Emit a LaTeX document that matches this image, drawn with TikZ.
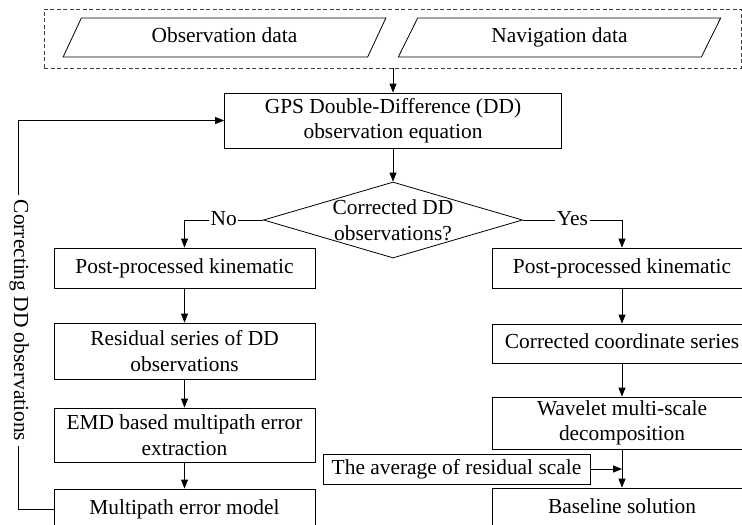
\documentclass[tikz,border=0pt]{standalone}
\usepackage{fontspec}
\setmainfont{Liberation Serif}
\usetikzlibrary{arrows.meta,shapes.geometric}

\begin{document}
\begin{tikzpicture}[x=1pt,y=-1pt,line width=0.8pt,
    font=\fontsize{21.4}{25.5}\selectfont,
    oneline/.style={text height=14.5pt,text depth=4.5pt},
    box/.style={draw,rectangle,align=center,inner sep=0pt},
    datain/.style={draw,trapezium,trapezium left angle=64,trapezium right angle=116,
        trapezium stretches=true,minimum width=323,minimum height=39,inner sep=0pt,oneline},
    arr/.style={-{Triangle[length=9pt,width=7pt]}},
    lab/.style={fill=white,inner sep=1.5pt,oneline}]
\useasboundingbox (0,0) rectangle (742,525);
\clip (0,0) rectangle (742,525);

% input data
\node[draw=black!75,dash pattern=on 4pt off 2.5pt,minimum width=697,minimum height=59] (input) at (392.5,38.5) {};
\node[datain] (obs) at (224.5,37.5) {Observation data};
\node[datain] (nav) at (559.5,37.5) {Navigation data};

\node[box,minimum width=337,minimum height=55] (gps) at (393,120.5) {GPS Double-Difference (DD)\\observation equation};
\node[draw,diamond,inner sep=0pt,minimum width=259,minimum height=76] (dec) at (393,220) {};
\node[align=center,inner sep=0pt] (dectext) at (dec.center) {Corrected DD\\observations?};

% left branch
\node[box,oneline,minimum width=261,minimum height=40] (ppkl) at (184.5,268) {Post-processed kinematic};
\node[box,minimum width=261,minimum height=56] (resid) at (184.5,351) {Residual series of DD\\observations};
\node[box,minimum width=261,minimum height=54] (emd) at (184.5,435) {EMD based multipath error\\extraction};
\node[box,oneline,minimum width=261,minimum height=40] (mpm) at (184.5,509) {Multipath error model};

% right branch
\node[box,oneline,minimum width=260,minimum height=40] (ppkr) at (622,268) {Post-processed kinematic};
\node[box,oneline,minimum width=260,minimum height=39] (coord) at (622,343.5) {Corrected coordinate series};
\node[box,minimum width=260,minimum height=52] (wave) at (622,423) {Wavelet multi-scale\\decomposition};
\node[box,oneline,minimum width=267,minimum height=30] (avg) at (456.5,469) {The average of residual scale};
\node[box,oneline,minimum width=260,minimum height=40] (base) at (622,508) {Baseline solution};

\draw[arr] (input.south -| gps.north) -- (gps.north);
\draw[arr] (gps.south) -- (dec.north);
\draw[arr] (dec.west) -| node[lab,pos=0.25] (no) {No} (ppkl.north);
\draw[arr] (dec.east) -| node[lab,pos=0.25] (yes) {Yes} (ppkr.north);

\draw[arr] (ppkl) -- (resid);
\draw[arr] (resid) -- (emd);
\draw[arr] (emd) -- (mpm);

\draw[arr] (ppkr) -- (coord);
\draw[arr] (coord) -- (wave);
\draw[arr] (wave) -- (base);
\draw[arr] (avg.east) -- (avg.east -| base.north);

% feedback loop
\draw[arr] (mpm.west) -- ++(-35,0) coordinate (fb) |- (gps.west);
\node[lab,inner sep=5pt,rotate=-90] (fblab) at (19,320.5) {Correcting DD observations};
\end{tikzpicture}
\end{document}
